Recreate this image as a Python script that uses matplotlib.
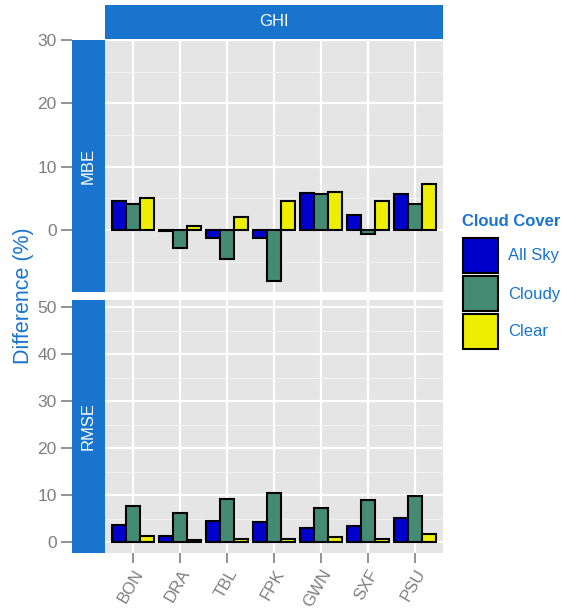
import numpy as np
import matplotlib.pyplot as plt
from matplotlib.patches import Rectangle

plt.rcParams['font.family'] = ['Liberation Sans', 'DejaVu Sans']

# station codes and cloud cover classes
sites = ['BON', 'DRA', 'TBL', 'FPK', 'GWN', 'SXF', 'PSU']
cover = ['All Sky', 'Cloudy', 'Clear']
colors = ['#0000CC', '#458B74', '#EEEE00']

# mean bias error (%) per site, one list per cloud class
mbe_all = [4.6, -0.1, -1.3, -1.2, 5.9, 2.4, 5.6]
mbe_cloudy = [4.05, -2.9, -4.6, -8.05, 5.7, -0.7, 4.05]
mbe_clear = [5.1, 0.7, 2.0, 4.5, 6.05, 4.5, 7.2]

# root mean square error (%)
rmse_all = [3.6, 1.4, 4.5, 4.3, 3.0, 3.5, 5.2]
rmse_cloudy = [7.65, 6.2, 9.2, 10.5, 7.2, 8.9, 9.9]
rmse_clear = [1.4, 0.4, 0.6, 0.7, 1.1, 0.7, 1.7]

W, H = 567, 609
strip_col = '#1874CD'
grey = '#7F7F7F'

fig = plt.figure(figsize=(W / 100, H / 100), dpi=100)


def px_axes(x0, y0, x1, y1):
    # axes from pixel box (top-left origin)
    return fig.add_axes([x0 / W, 1 - y1 / H, (x1 - x0) / W, (y1 - y0) / H])


def panel(box, series, ylim, major, minor, label, show_x):
    ax = px_axes(*box)
    ax.set_facecolor('#E5E5E5')
    x = np.arange(len(sites))
    for i, vals in enumerate(series):
        ax.bar(x + (i - 1) * 0.3, vals, width=0.3, color=colors[i],
               edgecolor='black', linewidth=1.5, zorder=3)
    ax.set_xlim(-0.6, len(sites) - 0.4)
    ax.set_ylim(*ylim)
    ax.set_yticks(major)
    ax.set_yticks(minor, minor=True)
    ax.set_xticks(x)
    ax.grid(which='major', color='white', linewidth=1.6, zorder=0)
    ax.grid(which='minor', axis='y', color='#F2F2F2', linewidth=0.8, zorder=0)
    ax.tick_params(axis='y', which='both', length=0, labelleft=False)
    ax.tick_params(axis='x', length=7, width=1.2, color=grey, labelcolor=grey,
                   labelsize=12, pad=3)
    for s in ax.spines.values():
        s.set_visible(False)
    if show_x:
        ax.set_xticklabels(sites, rotation=60, ha='right', rotation_mode='anchor')
    else:
        ax.tick_params(axis='x', length=0, labelbottom=False)
    ax.set_axisbelow(True)

    # facet strip on the left, carrying the y ticks outside it
    st = px_axes(72, box[1], 105, box[3])
    st.set_facecolor(strip_col)
    st.set_xticks([])
    st.set_ylim(*ylim)
    st.set_yticks(major)
    st.tick_params(axis='y', length=8, width=1.2, color=grey, labelcolor=grey,
                   labelsize=12.5, pad=3)
    for s in st.spines.values():
        s.set_visible(False)
    st.text(0.5, 0.5, label, color='white', rotation=90, fontsize=12,
            ha='center', va='center', transform=st.transAxes)
    return ax


panel((105, 40, 443, 292), [mbe_all, mbe_cloudy, mbe_clear], (-9.8, 30),
      [0, 10, 20, 30], [-5, 5, 15, 25], 'MBE', False)
panel((105, 300, 443, 553), [rmse_all, rmse_cloudy, rmse_clear],
      (-2.3, 51.5), [0, 10, 20, 30, 40, 50], [5, 15, 25, 35, 45],
      'RMSE', True)

# top strip
top = px_axes(105, 5, 443, 39)
top.set_facecolor(strip_col)
top.set_xticks([])
top.set_yticks([])
for s in top.spines.values():
    s.set_visible(False)
top.text(0.5, 0.5, 'GHI', color='white', fontsize=12, ha='center',
         va='center', transform=top.transAxes)

fig.text(23 / W, 1 - 296 / H, 'Difference (%)', color=strip_col, fontsize=15.5,
         rotation=90, ha='center', va='center')

# legend
fig.text(462 / W, 1 - 222 / H, 'Cloud Cover', color=strip_col, fontsize=12,
         fontweight='bold', ha='left', va='center')
for i, name in enumerate(cover):
    y0 = 238 + i * 38
    fig.patches.append(Rectangle((463 / W, 1 - (y0 + 35) / H), 35 / W, 35 / H,
                                 facecolor=colors[i], edgecolor='black',
                                 linewidth=1.5, transform=fig.transFigure))
    fig.text(508 / W, 1 - (y0 + 18) / H, name, color=strip_col, fontsize=12,
             ha='left', va='center')

fig.savefig('out.png', dpi=100)
